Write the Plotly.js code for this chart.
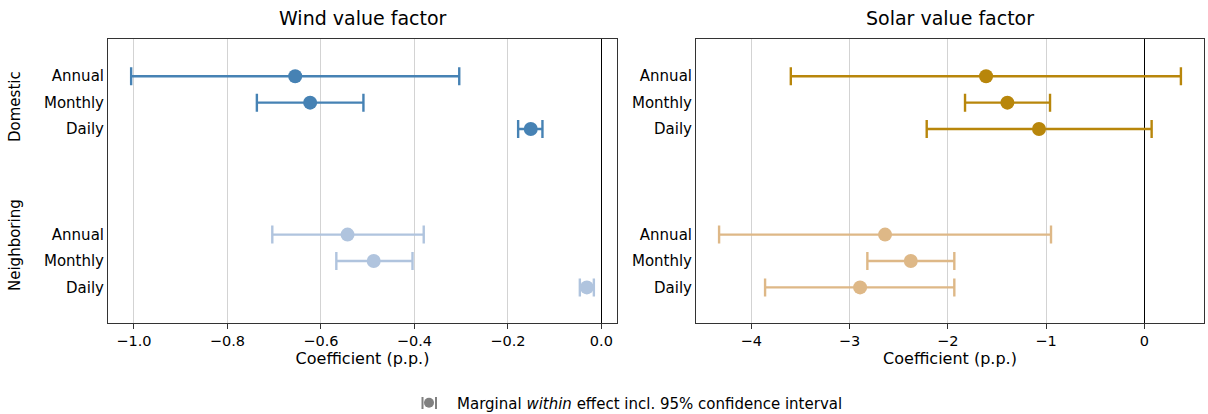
<!DOCTYPE html>
<html>
<head>
<meta charset="utf-8">
<script src="https://cdn.plot.ly/plotly-3.0.1.min.js"></script>
<style>html,body{margin:0;padding:0;background:#fff;}#chart{width:1208px;height:414px;}</style>
</head>
<body>
<div id="chart"></div>
<script>
// ---- data ----
const rowLabels = ["Annual", "Monthly", "Daily", "Annual", "Monthly", "Daily"];
const rowPositions = [0, 1, 2, 6, 7, 8];
const groups = ["Domestic", "Neighboring"];

const windPoint = [-0.655, -0.623, -0.151, -0.543, -0.487, -0.031];
const windLow   = [-1.006, -0.737, -0.178, -0.704, -0.567, -0.046];
const windHigh  = [-0.304, -0.509, -0.126, -0.380, -0.404, -0.016];

const solarPoint = [-1.610, -1.393, -1.071, -2.638, -2.376, -2.892];
const solarLow   = [-3.597, -1.824, -2.214, -4.327, -2.818, -3.859];
const solarHigh  = [ 0.373, -0.959,  0.075, -0.949, -1.933, -1.933];

const legendLabel = "Marginal <i>within</i> effect incl. 95% confidence interval";

// ---- build ----
const W = 1208, H = 414;
const FONT = "DejaVu Sans";
const colors = {wind: ["#4682B4", "#B0C4DE"], solar: ["#B8860B", "#DEB887"]};

function mk(point, low, high, idx, color, xa, ya) {
  const pts = idx.map(i => point[i]);
  return {
    type: "scatter", mode: "markers",
    x: pts, y: idx.map(i => rowPositions[i]),
    xaxis: xa, yaxis: ya,
    marker: {color: color, size: 14},
    error_x: {type: "data", symmetric: false,
      array: idx.map(i => high[i] - point[i]),
      arrayminus: idx.map(i => point[i] - low[i]),
      color: color, thickness: 2.4, width: 9},
    showlegend: false, hoverinfo: "x"
  };
}
const dom = [0, 1, 2], nbr = [3, 4, 5];
const traces = [
  mk(windPoint, windLow, windHigh, dom, colors.wind[0], "x", "y"),
  mk(windPoint, windLow, windHigh, nbr, colors.wind[1], "x", "y"),
  mk(solarPoint, solarLow, solarHigh, dom, colors.solar[0], "x2", "y2"),
  mk(solarPoint, solarLow, solarHigh, nbr, colors.solar[1], "x2", "y2"),
  {type: "scatter", mode: "markers", x: [null], y: [null], xaxis: "x", yaxis: "y",
   marker: {color: "#808080", size: 10}, name: legendLabel, showlegend: true}
];

const yDom = [1 - 322.5 / H, 1 - 38.5 / H];
const xCommon = {
  showgrid: true, gridcolor: "#d3d3d3", gridwidth: 1,
  zeroline: true, zerolinecolor: "#000", zerolinewidth: 1,
  showline: true, mirror: true, linecolor: "#333", linewidth: 1,
  ticks: "outside", ticklen: 5, tickcolor: "#333",
  tickfont: {family: FONT, size: 14.5, color: "#000"},
  title: {text: "Coefficient (p.p.)", font: {family: FONT, size: 16, color: "#000"}, standoff: 3},
  fixedrange: true
};
const yCommon = {
  range: [9.33, -1.43], domain: yDom,
  tickvals: rowPositions, ticktext: rowLabels,
  ticks: "", showgrid: false, zeroline: false,
  showline: true, mirror: true, linecolor: "#333", linewidth: 1,
  tickfont: {family: FONT, size: 15, color: "#000"},
  ticklabelstandoff: 0, fixedrange: true
};

const xd1 = [108 / W, 617 / W], xd2 = [696 / W, 1204 / W];
const layout = {
  width: W, height: H,
  margin: {l: 0, r: 0, t: 0, b: 0, autoexpand: false},
  paper_bgcolor: "#fff", plot_bgcolor: "#fff",
  font: {family: FONT, color: "#000"},
  xaxis: Object.assign({}, xCommon, {domain: xd1, range: [-1.0555, 0.0335], dtick: 0.2, tickformat: ".1f", anchor: "y"}),
  yaxis: Object.assign({}, yCommon, {anchor: "x"}),
  xaxis2: Object.assign({}, xCommon, {domain: xd2, range: [-4.562, 0.608], dtick: 1, anchor: "y2"}),
  yaxis2: Object.assign({}, yCommon, {anchor: "x2"}),
  showlegend: true,
  legend: {orientation: "h", x: 401 / W, xanchor: "left", y: 1 - 403 / H, yanchor: "middle", itemwidth: 46,
           font: {family: FONT, size: 15, color: "#000"}, bgcolor: "rgba(0,0,0,0)", borderwidth: 0},
  annotations: [
    {text: "Wind value factor", xref: "paper", yref: "paper", x: (xd1[0] + xd1[1]) / 2, y: 1 - 18 / H,
     xanchor: "center", yanchor: "middle", showarrow: false, font: {family: FONT, size: 19, color: "#000"}},
    {text: "Solar value factor", xref: "paper", yref: "paper", x: (xd2[0] + xd2[1]) / 2, y: 1 - 18 / H,
     xanchor: "center", yanchor: "middle", showarrow: false, font: {family: FONT, size: 19, color: "#000"}},
    {text: groups[0], xref: "paper", yref: "paper", x: 15 / W, y: 1 - 107 / H, textangle: -90,
     xanchor: "center", yanchor: "middle", showarrow: false, font: {family: FONT, size: 15, color: "#000"}},
    {text: groups[1], xref: "paper", yref: "paper", x: 15 / W, y: 1 - 245 / H, textangle: -90,
     xanchor: "center", yanchor: "middle", showarrow: false, font: {family: FONT, size: 15, color: "#000"}}
  ],
  shapes: [
    {type: "line", xref: "paper", yref: "paper", x0: 422.5 / W, x1: 422.5 / W, y0: 1 - 397 / H, y1: 1 - 409 / H, line: {color: "#808080", width: 2}},
    {type: "line", xref: "paper", yref: "paper", x0: 436 / W, x1: 436 / W, y0: 1 - 397 / H, y1: 1 - 409 / H, line: {color: "#808080", width: 2}}
  ]
};

Plotly.newPlot("chart", traces, layout, {staticPlot: true, displayModeBar: false});
</script>
</body>
</html>
